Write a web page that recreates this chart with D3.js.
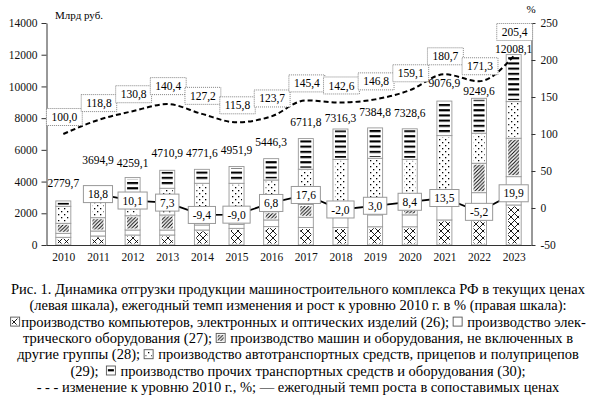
<!DOCTYPE html>
<html>
<head>
<meta charset="utf-8">
<script src="https://cdn.jsdelivr.net/npm/d3@7"></script>
<style>
  body { margin: 0; background: #fff; }
  svg { display: block; }
  svg text { font-family: "Liberation Serif", "Times New Roman", serif; }
</style>
</head>
<body>
<script>
// data (bln rub, %)
const years = ['2010','2011','2012','2013','2014','2015','2016','2017','2018','2019','2020','2021','2022','2023']
const computers      = [485, 568, 630, 630, 946, 1050, 1160, 1100, 1100, 1150, 1150, 1580, 1580, 2524]
const electrical     = [252, 315, 316, 316, 316, 250, 420, 650, 700, 750, 750, 1000, 1720, 1786]
const machinery      = [630, 840, 900, 947, 340, 300, 520, 800, 500, 400, 350, 400, 1855, 2423]
const vehicles       = [1073, 1277, 1430, 1685, 2290, 2290, 2000, 2230, 3100, 3170, 3150, 3920, 1895, 2310]
const otherTransport = [339.7, 694.9, 983.1, 1132.9, 879.6, 1061.9, 1346.3, 1931.8, 1916.3, 1914.8, 1928.6, 2176.9, 2199.6, 2965.1]
const totals = [2779.7, 3694.9, 4259.1, 4710.9, 4771.6, 4951.9, 5446.3, 6711.8, 7316.3, 7384.8, 7328.6, 9076.9, 9249.6, 12008.1]
const vs2010 = [100.0, 118.8, 130.8, 140.4, 127.2, 115.8, 123.7, 145.4, 142.6, 146.8, 159.1, 180.7, 171.3, 205.4]
const growthYears = years.slice(1)
const annualGrowth = [18.8, 10.1, 7.3, -9.4, -9.0, 6.8, 17.6, -2.0, 3.0, 8.4, 13.5, -5.2, 19.9]
const leftTicks = [0, 2000, 4000, 6000, 8000, 10000, 12000, 14000]
const rightTicks = [-50, 0, 50, 100, 150, 200, 250]

// label nudges in px (where the original moved them by hand)
const totalLabelLift = [18, 26, 14, 17, 16, 17, 17, 17, 11, 16, 16, 18, 7, 6]
const vsBoxLift = [17, 17, 17, 18, 18, 17, 18, 17, 17, 18, 17, 18, 15, 24]

const keys = ['computers', 'electrical', 'machinery', 'vehicles', 'otherTransport']
const fills = ['url(#p-xx)', '#fff', 'url(#p-diag)', 'url(#p-dots)', 'url(#p-hl)']

const width = 590, height = 397
const comma = v => v.toFixed(1).replace('.', ',')

const svg = d3.select('body').append('svg')
    .attr('width', width)
    .attr('height', height)

// patterns
const defs = svg.append('defs')
defs.append('pattern').attr('id', 'p-xx').attr('patternUnits', 'userSpaceOnUse')
    .attr('width', 7).attr('height', 7)
  .append('path').attr('d', 'M0,0L7,7M7,0L0,7').attr('stroke', '#000').attr('stroke-width', 0.9)
const pd = defs.append('pattern').attr('id', 'p-diag').attr('patternUnits', 'userSpaceOnUse')
    .attr('width', 3.6).attr('height', 3.6)
pd.append('rect').attr('width', 3.6).attr('height', 3.6).attr('fill', '#fff')
pd.append('path').attr('d', 'M-0.9,0.9L0.9,-0.9M0,3.6L3.6,0M2.7,4.5L4.5,2.7')
    .attr('stroke', '#000').attr('stroke-width', 1)
const pdot = defs.append('pattern').attr('id', 'p-dots').attr('patternUnits', 'userSpaceOnUse')
    .attr('width', 6).attr('height', 6)
pdot.append('rect').attr('width', 6).attr('height', 6).attr('fill', '#fff')
pdot.append('rect').attr('x', 1).attr('y', 1).attr('width', 1.3).attr('height', 1.3).attr('fill', '#000')
pdot.append('rect').attr('x', 4).attr('y', 4).attr('width', 1.3).attr('height', 1.3).attr('fill', '#000')
const phl = defs.append('pattern').attr('id', 'p-hl').attr('patternUnits', 'userSpaceOnUse')
    .attr('width', 5).attr('height', 5.2)
phl.append('rect').attr('width', 5).attr('height', 5.2).attr('fill', '#fff')
phl.append('rect').attr('width', 5).attr('height', 2.1).attr('fill', '#000')

// scales
const x = d3.scalePoint().domain(years).range([46, 531]).padding(0.5)
const yL = d3.scaleLinear().domain([0, 14000]).range([245, 23])
const yR = d3.scaleLinear().domain([-50, 250]).range([245, 23])
const barW = 15

// stacked bars
const rows = years.map((y, i) => ({
    year: y,
    computers: computers[i],
    electrical: electrical[i],
    machinery: machinery[i],
    vehicles: vehicles[i],
    otherTransport: otherTransport[i]
}))
const stacked = d3.stack().keys(keys)(rows)

const bars = svg.append('g')
stacked.forEach((layer, k) => {
    const g = bars.append('g')
    g.selectAll('rect.o').data(layer).enter().append('rect')
        .attr('x', d => x(d.data.year) - barW / 2)
        .attr('y', d => yL(d[1]))
        .attr('width', barW)
        .attr('height', d => yL(d[0]) - yL(d[1]))
        .attr('fill', '#fff')
        .attr('stroke', '#999')
        .attr('stroke-width', 0.9)
    if (k !== 1) {
        g.selectAll('rect.i').data(layer).enter().append('rect')
            .attr('x', d => x(d.data.year) - barW / 2 + 2)
            .attr('y', d => yL(d[1]) + 1.5)
            .attr('width', barW - 4)
            .attr('height', d => Math.max(0, yL(d[0]) - yL(d[1]) - 3))
            .attr('fill', fills[k])
    }
})

// axes
const axL = svg.append('g')
    .attr('transform', 'translate(46.5,0)')
    .call(d3.axisLeft(yL).tickValues(leftTicks).tickSize(5).tickSizeOuter(0).tickPadding(4).tickFormat(d => String(d)))
const axR = svg.append('g')
    .attr('transform', 'translate(531.5,0)')
    .call(d3.axisRight(yR).tickValues(rightTicks).tickSize(4).tickSizeOuter(0).tickPadding(5).tickFormat(d => String(d)))
const axB = svg.append('g')
    .attr('transform', 'translate(0,245)')
    .call(d3.axisBottom(x).tickSize(0).tickSizeOuter(0).tickPadding(8))
;[axL, axR, axB].forEach(a => a.attr('font-family', null).attr('font-size', 11.5))
svg.selectAll('.tick text').attr('fill', '#111')
svg.selectAll('.domain, .tick line').attr('stroke', '#333')

svg.append('text').attr('x', 55).attr('y', 19).attr('font-size', 11).text('Млрд руб.')
svg.append('text').attr('x', 531).attr('y', 13).attr('text-anchor', 'middle').attr('font-size', 11).text('%')

// lines
const lineVs = d3.line().x((d, i) => x(years[i])).y(d => yR(d)).curve(d3.curveMonotoneX)
svg.append('path').datum(vs2010)
    .attr('d', lineVs)
    .attr('fill', 'none').attr('stroke', '#000').attr('stroke-width', 2).attr('stroke-dasharray', '5,3')

const lineGr = d3.line().x((d, i) => x(growthYears[i])).y(d => yR(d))
svg.append('path').datum(annualGrowth)
    .attr('d', lineGr)
    .attr('fill', 'none').attr('stroke', '#000').attr('stroke-width', 1.8)

// boxed labels
function boxLabel(cx, cy, txt, dotted) {
    const g = svg.append('g')
    const r = g.append('rect')
    const t = g.append('text').attr('x', cx).attr('y', cy).attr('dy', '0.35em')
        .attr('text-anchor', 'middle').attr('font-size', 11.5).text(txt)
    const w = t.node().getComputedTextLength() + (dotted ? 10 : 9)
    r.attr('x', cx - w / 2).attr('y', cy - 8.5).attr('width', w).attr('height', 17)
        .attr('fill', '#fff')
        .attr('stroke', dotted ? '#777' : '#999')
        .attr('stroke-width', dotted ? 0.9 : 1)
        .attr('stroke-dasharray', dotted ? '1,1' : null)
}
vs2010.forEach((v, i) => boxLabel(x(years[i]) + 1, yR(v) - vsBoxLift[i], comma(v), true))
annualGrowth.forEach((v, i) => boxLabel(x(growthYears[i]), yR(v), comma(v), false))

// totals above bars
svg.append('g').selectAll('text').data(totals).enter().append('text')
    .attr('x', (d, i) => x(years[i]))
    .attr('y', (d, i) => yL(d) - totalLabelLift[i])
    .attr('dy', '0.35em')
    .attr('text-anchor', 'middle')
    .attr('font-size', 11.5)
    .text(d => comma(d))

// caption
const caption = [
    ['Рис. 1. Динамика отгрузки продукции машиностроительного комплекса РФ в текущих ценах'],
    ['(левая шкала), ежегодный темп изменения и рост к уровню 2010 г. в % (правая шкала):'],
    [{icon: 0}, 'производство компьютеров, электронных и оптических изделий (26); ', {icon: 1}, ' производство элек-'],
    ['трического оборудования (27); ', {icon: 2}, ' производство машин и оборудования, не включенных в'],
    ['другие группы (28); ', {icon: 3}, ' производство автотранспортных средств, прицепов и полуприцепов'],
    ['(29);  ', {icon: 4}, ' производство прочих транспортных средств и оборудования (30);'],
    ['- - - изменение к уровню 2010 г., %; — ежегодный темп роста в сопоставимых ценах']
]
const capSize = 14.5, iconW = 10
caption.forEach((parts, li) => {
    const base = 294 + li * 16.3
    const g = svg.append('g')
    let cur = 0
    const items = parts.map(p => {
        if (typeof p === 'string') {
            const t = g.append('text').attr('y', base).attr('font-size', capSize)
                .style('white-space', 'pre').text(p)
            const w = t.node().getComputedTextLength()
            const it = {el: t, x: cur, w: w}
            cur += w
            return it
        }
        const it = {icon: p.icon, x: cur}
        cur += iconW + 1
        return it
    })
    const x0 = 298 - cur / 2
    items.forEach(it => {
        if (it.el) { it.el.attr('x', x0 + it.x); return }
        const ix = x0 + it.x + 0.5, iy = base - iconW + 0.5
        g.append('rect').attr('x', ix).attr('y', iy).attr('width', iconW - 1).attr('height', iconW - 1)
            .attr('fill', '#fff').attr('stroke', '#555').attr('stroke-width', 0.9)
        if (it.icon !== 1) {
            g.append('rect').attr('x', ix + 1.5).attr('y', iy + 1.5).attr('width', iconW - 4).attr('height', iconW - 4)
                .attr('fill', fills[it.icon])
        }
    })
})
</script>
</body>
</html>
